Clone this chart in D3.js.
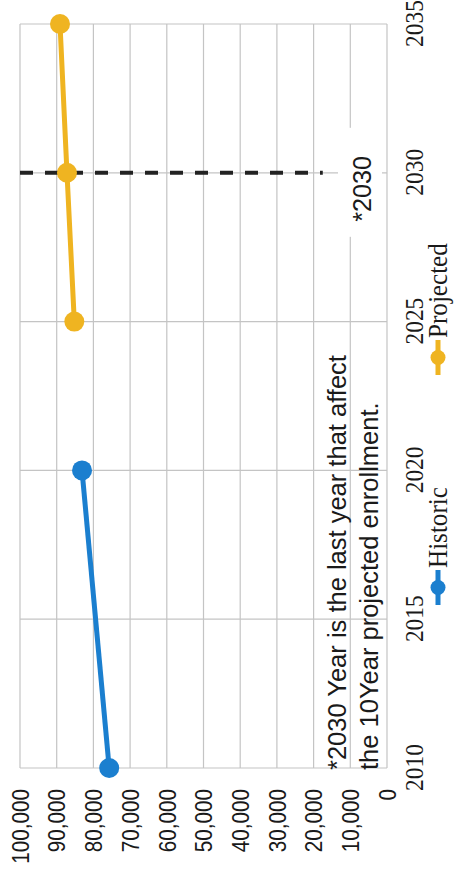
<!DOCTYPE html>
<html><head><meta charset="utf-8">
<script src="https://cdn.jsdelivr.net/npm/d3@7"></script>
<style>body{margin:0;background:#fff;overflow:hidden}</style></head>
<body><svg id="c" width="472" height="870"></svg>
<script>
// ---- data ----
const yearTicks = [2010, 2015, 2020, 2025, 2030, 2035];
const valueTicks = [0, 10000, 20000, 30000, 40000, 50000, 60000, 70000, 80000, 90000, 100000];
const historicYears = [2010, 2020];
const historicValues = [75700, 83100];
const projectedYears = [2025, 2030, 2035];
const projectedValues = [85200, 87200, 89100];
const cutoffYear = [2030];
const cutoffRange = [100000, 17500];
const cutoffLabel = "*2030";
const noteLines = ["*2030 Year is the last year that affect", "the 10Year projected enrollment."];
const seriesNames = ["Historic", "Projected"];
const seriesColors = ["#1b7fcf", "#efb421"];

// ---- layout (chart drawn landscape, then rotated -90deg) ----
const W = 870, H = 472;
const svg = d3.select("#c");
const g = svg.append("g").attr("transform", `translate(0,${W}) rotate(-90)`);

const x = d3.scaleLinear().domain([2010, 2035]).range([102, 846]);
const y = d3.scaleLinear().domain([0, 100000]).range([387, 20]);

function condense(sel, f) {
  sel.each(function () {
    const w = this.getComputedTextLength();
    d3.select(this).attr("textLength", w * f).attr("lengthAdjust", "spacingAndGlyphs");
  });
}

// gridlines
const gridColor = "#c4c4c4";
g.append("g").selectAll("line").data(valueTicks).join("line")
  .attr("x1", x(2010)).attr("x2", x(2035))
  .attr("y1", d => y(d)).attr("y2", d => y(d))
  .attr("stroke", gridColor).attr("stroke-width", 1.2);
g.append("g").selectAll("line").data(yearTicks).join("line")
  .attr("x1", d => x(d)).attr("x2", d => x(d))
  .attr("y1", y(100000)).attr("y2", y(0))
  .attr("stroke", gridColor).attr("stroke-width", 1.2);

// value axis
const ya = g.append("g").attr("transform", `translate(${x(2010)},0)`)
  .call(d3.axisLeft(y).tickValues(valueTicks).tickFormat(d3.format(",")).tickSize(0).tickPadding(21));
ya.select(".domain").remove();
ya.selectAll("text").attr("font-family", "'Liberation Sans', Arial, sans-serif")
  .attr("font-size", 23).attr("fill", "#1a1a1a").attr("dy", "0.36em");
condense(ya.selectAll("text"), 0.9);

// year axis
const xa = g.append("g").attr("transform", `translate(0,${y(0)})`)
  .call(d3.axisBottom(x).tickValues(yearTicks).tickFormat(d3.format("d")).tickSize(0));
xa.select(".domain").remove();
xa.selectAll("text").attr("font-family", "'Liberation Serif', 'Times New Roman', serif")
  .attr("font-size", 26).attr("fill", "#1a1a1a").attr("y", 36).attr("dy", 0);
condense(xa.selectAll("text"), 0.9);

// note text (annotation)
g.append("g").selectAll("text").data(noteLines).join("text")
  .attr("x", x(2010) - 2)
  .attr("y", (d, i) => 346 + i * 32)
  .attr("font-family", "'Liberation Sans', Arial, sans-serif")
  .attr("font-size", 25.5).attr("fill", "#1a1a1a")
  .text(d => d);

// cutoff dashed line
g.append("g").selectAll("line").data(cutoffYear).join("line")
  .attr("x1", d => x(d)).attr("x2", d => x(d))
  .attr("y1", y(cutoffRange[0])).attr("y2", y(cutoffRange[1]))
  .attr("stroke", "#222").attr("stroke-width", 4).attr("stroke-dasharray", "13,12");

// cutoff label with white box
const lb = g.append("g");
lb.append("rect").attr("x", x(2030) - 64).attr("y", 338).attr("width", 109).attr("height", 44).attr("fill", "#fff");
const cl = lb.append("text").attr("x", x(2030) - 49).attr("y", 371)
  .attr("font-family", "'Liberation Sans', Arial, sans-serif")
  .attr("font-size", 26).attr("fill", "#1a1a1a").text(cutoffLabel);
condense(cl, 0.97);

// series
const series = [
  { name: seriesNames[0], color: seriesColors[0], pts: historicYears.map((yr, i) => [yr, historicValues[i]]) },
  { name: seriesNames[1], color: seriesColors[1], pts: projectedYears.map((yr, i) => [yr, projectedValues[i]]) }
];
const line = d3.line().x(d => x(d[0])).y(d => y(d[1]));
series.forEach(s => {
  g.append("path").datum(s.pts).attr("d", line).attr("fill", "none")
    .attr("stroke", s.color).attr("stroke-width", 5);
  g.append("g").selectAll("circle").data(s.pts).join("circle")
    .attr("cx", d => x(d[0])).attr("cy", d => y(d[1])).attr("r", 10).attr("fill", s.color);
});

// legend
const legX = [265, 495];
const legY = 438;
series.forEach((s, i) => {
  const lg = g.append("g").attr("transform", `translate(${legX[i]},${legY})`);
  lg.append("line").attr("x1", 0).attr("x2", 35).attr("stroke", s.color).attr("stroke-width", 5);
  lg.append("circle").attr("cx", 17.5).attr("r", 7.5).attr("fill", s.color);
  const t = lg.append("text").attr("x", 37).attr("y", 9)
    .attr("font-family", "'Liberation Serif', 'Times New Roman', serif")
    .attr("font-size", 27).attr("fill", "#1a1a1a").text(s.name);
  condense(t, 0.93);
});
</script>
</body></html>
